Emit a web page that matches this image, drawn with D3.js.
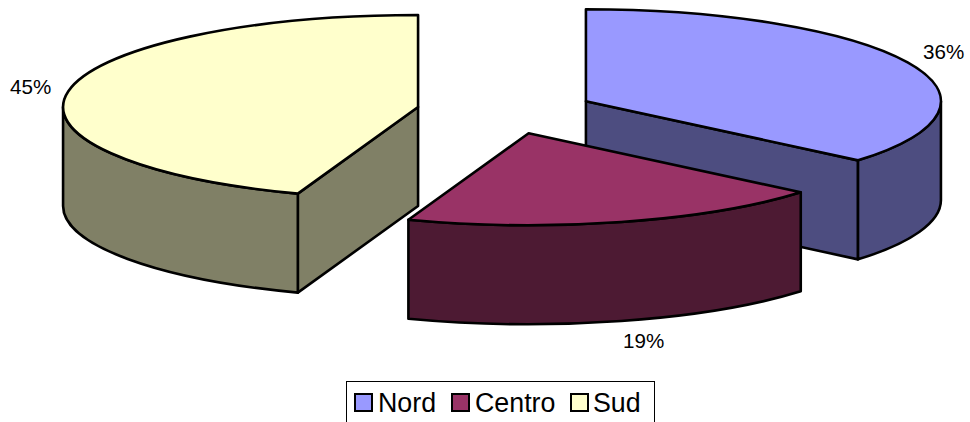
<!DOCTYPE html>
<html>
<head>
<meta charset="utf-8">
<script src="https://cdn.jsdelivr.net/npm/d3@7"></script>
<style>
  html, body { margin: 0; padding: 0; background: #fff; overflow: hidden; }
  text { font-family: "Liberation Sans", Arial, sans-serif; fill: #000; }
</style>
</head>
<body>
<div id="chart"></div>
<script>
const categories = ["Nord", "Centro", "Sud"];
const values = [36.1, 19.4, 44.5];
const percentLabels = ["36%", "19%", "45%"];
const topColors = ["#9999FF", "#993366", "#FFFFCC"];
const sideColors = ["#4D4D80", "#4D1A33", "#808066"];

const width = 970, height = 422;
const cx = 505.5, cy = 111;      // centro della torta non esplosa
const rx = 355, ry = 92, depth = 99;
const explode = 0.25;

const svg = d3.select("#chart").append("svg")
    .attr("width", width)
    .attr("height", height)
    .style("display", "block");

const topColor = d3.scaleOrdinal().domain(categories).range(topColors);
const sideColor = d3.scaleOrdinal().domain(categories).range(sideColors);

const pie = d3.pie().sort(null).value(d => d.value);
const slices = pie(categories.map((name, i) => ({ name, value: values[i], label: percentLabels[i] })));

// punto sull'ellisse all'angolo t (0 = in alto, senso orario)
const px = (c, t) => c + rx * Math.sin(t);
const py = (c, t) => c - ry * Math.cos(t);

const drawOrder = [0, 2, 1];   // Nord dietro, Centro davanti

drawOrder.forEach(i => {
    const s = slices[i];
    const mid = (s.startAngle + s.endAngle) / 2;
    const ax = cx + explode * rx * Math.sin(mid);
    const ay = cy - explode * ry * Math.cos(mid);
    const g = svg.append("g")
        .attr("stroke", "#000")
        .attr("stroke-width", 2.6)
        .attr("stroke-linejoin", "round");
    const side = g.append("g")
        .attr("fill", sideColor(s.data.name));

    // parete radiale
    [[s.startAngle, Math.sin(s.startAngle) < -1e-6], [s.endAngle, Math.sin(s.endAngle) > 1e-6]].forEach(([t, visible]) => {
        if (!visible) return;
        side.append("path")
            .attr("d", `M${ax},${ay} L${px(ax, t)},${py(ay, t)} L${px(ax, t)},${py(ay, t) + depth} L${ax},${ay + depth} Z`);
    });

    // parete esterna
    const a0 = Math.max(s.startAngle, Math.PI / 2);
    const a1 = Math.min(s.endAngle, Math.PI * 1.5);
    if (a1 > a0) {
        side.append("path")
            .attr("d", `M${px(ax, a0)},${py(ay, a0)} A${rx},${ry} 0 0 1 ${px(ax, a1)},${py(ay, a1)}`
                + ` L${px(ax, a1)},${py(ay, a1) + depth} A${rx},${ry} 0 0 0 ${px(ax, a0)},${py(ay, a0) + depth} Z`);
    }

    // faccia superiore
    const large = s.endAngle - s.startAngle > Math.PI ? 1 : 0;
    g.append("path")
        .attr("d", `M${ax},${ay} L${px(ax, s.startAngle)},${py(ay, s.startAngle)} A${rx},${ry} 0 ${large} 1 ${px(ax, s.endAngle)},${py(ay, s.endAngle)} Z`)
        .attr("fill", topColor(s.data.name));
});

// etichette percentuali
const labelPos = { Nord: [923, 59], Centro: [623, 348], Sud: [10, 94] };
slices.forEach(s => {
    svg.append("text")
        .attr("x", labelPos[s.data.name][0])
        .attr("y", labelPos[s.data.name][1])
        .attr("font-size", 20.6)
        .text(s.data.label);
});

// legenda
svg.append("rect")
    .attr("x", 346.5).attr("y", 381.5)
    .attr("width", 308).attr("height", 60)
    .attr("fill", "#fff").attr("stroke", "#000").attr("stroke-width", 1);

const legendX = d3.scaleOrdinal().domain(categories).range([355, 452, 571]);
const legendText = d3.scaleOrdinal().domain(categories).range([378, 475, 593]);
categories.forEach(name => {
    svg.append("rect")
        .attr("x", legendX(name)).attr("y", 394)
        .attr("width", 17).attr("height", 17)
        .attr("fill", topColor(name))
        .attr("stroke", "#000").attr("stroke-width", 2);
    svg.append("text")
        .attr("x", legendText(name)).attr("y", 412)
        .attr("font-size", 26.8)
        .text(name);
});
</script>
</body>
</html>
